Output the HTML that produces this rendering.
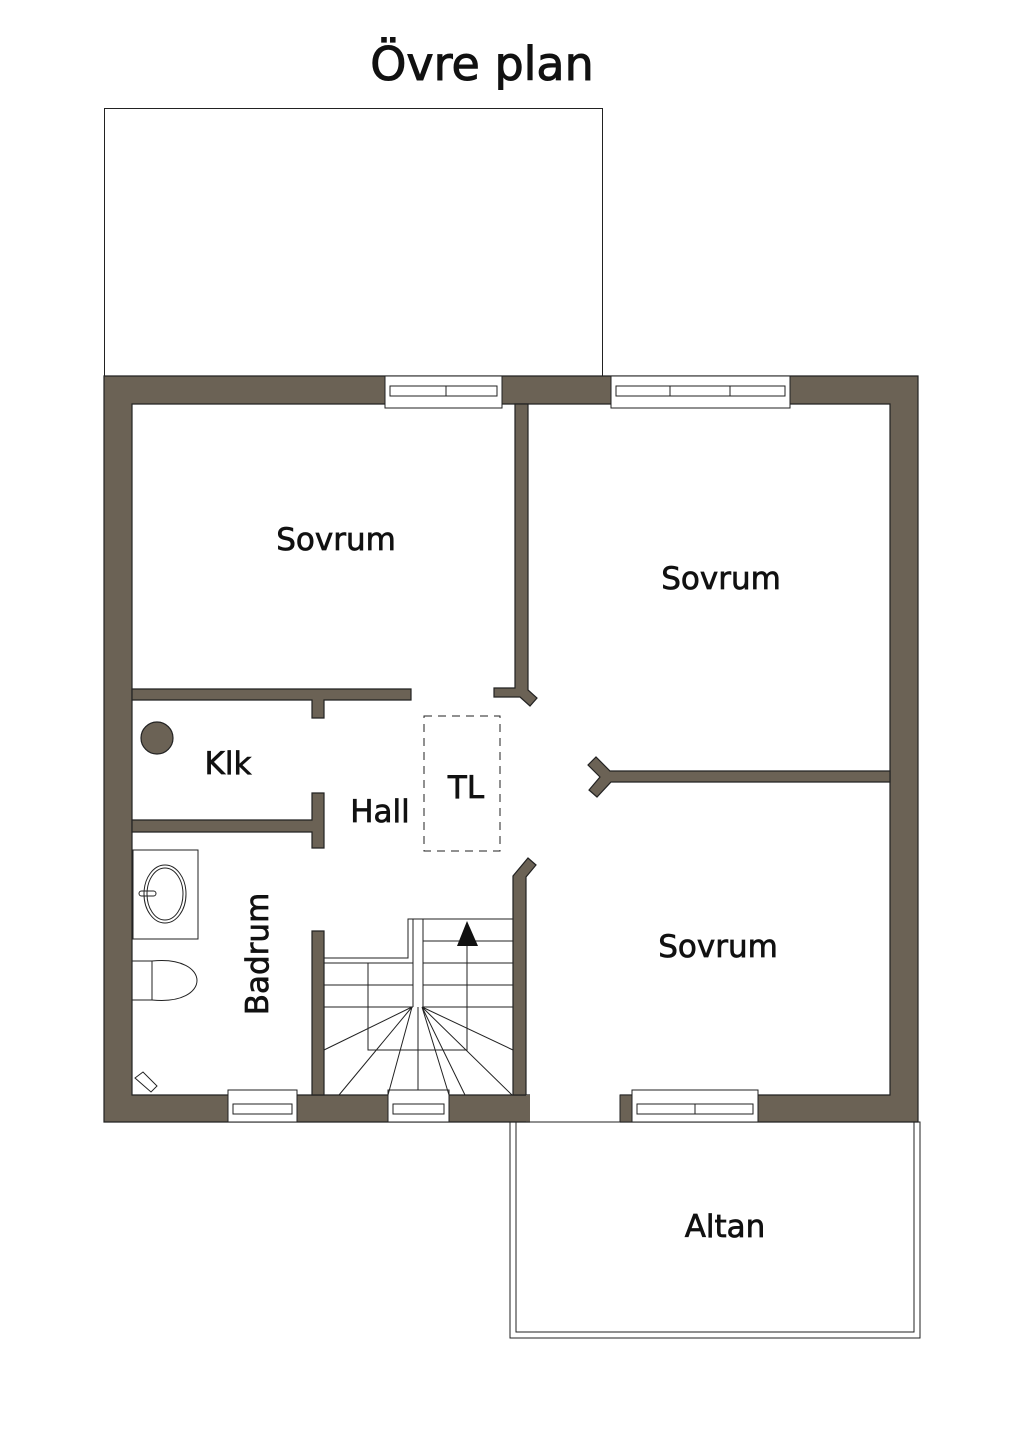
<!DOCTYPE html>
<html><head><meta charset="utf-8"><style>
html,body{margin:0;padding:0;background:#fff;}
svg{display:block}
text{font-family:"DejaVu Sans","Liberation Sans",sans-serif;fill:#111;stroke:#111;stroke-width:0.7;}
</style></head><body>
<svg width="1024" height="1448" viewBox="0 0 1024 1448" xmlns="http://www.w3.org/2000/svg">
<text x="482" y="80" font-size="46" text-anchor="middle" style="stroke-width:1">Övre plan</text>
<rect x="104.5" y="108.5" width="498" height="268" fill="none" stroke="#222" stroke-width="1"/>
<g fill="#6b6255" stroke="#222" stroke-width="1.2">
<path d="M104,376 H918 V1122 H104 Z M132,404 V1095 H890 V404 Z" fill-rule="evenodd"/>
<path d="M515,404 H528 V690 L537,698 L530,706 L520,697 H494 V688 H515 Z"/>
<path d="M132,689 H411 V700 H324 V718 H312 V700 H132 Z"/>
<path d="M132,820 H312 V793 H324 V848 H312 V832 H132 Z"/>
<path d="M890,771 V782 H611 L597,797 L589,790 L600,777 L588,765 L596,757 L610,771 Z"/>
<path d="M312,931 H324 V1095 H312 Z"/>
<path d="M513,1095 V876 L528,858 L536,865 L526,877 V1095 Z"/>
<circle cx="157" cy="738" r="16"/>
</g>
<g fill="#fff" stroke="#222" stroke-width="1">
<rect x="385" y="376" width="117" height="32"/>
<rect x="611" y="376" width="179" height="32"/>
<rect x="228" y="1090" width="69" height="32"/>
<rect x="388" y="1090" width="61" height="32"/>
<rect x="632" y="1090" width="126" height="32"/>
</g>
<rect x="530" y="1094" width="90" height="30" fill="#fff"/>
<rect x="526" y="1095" width="4" height="27" fill="#6b6255"/>
<path d="M620,1095 H632 V1122 H620 Z" fill="#6b6255" stroke="#222"/>
<g fill="none" stroke="#222" stroke-width="1">
<rect x="390" y="386" width="107" height="10"/><line x1="446" y1="386" x2="446" y2="396"/>
<rect x="616" y="386" width="169" height="10"/><line x1="670" y1="386" x2="670" y2="396"/><line x1="730" y1="386" x2="730" y2="396"/>
<rect x="233" y="1104" width="59" height="10"/>
<rect x="393" y="1104" width="51" height="10"/>
<rect x="637" y="1104" width="116" height="10"/><line x1="695" y1="1104" x2="695" y2="1114"/>
<rect x="424" y="716" width="76" height="135" stroke-dasharray="8,6"/>
<path d="M324,958 H408 V919 H513"/>
<path d="M413,919 V1007 M423,919 V1007"/>
<path d="M423,941 H513 M423,963 H513 M423,985 H513 M423,1007 H513"/>
<path d="M324,963 H413 M324,985 H413 M324,1007 H413"/>
<path d="M368,963 V1050 H467 V940"/>
<path d="M412,1007 L324,1050 M412,1007 L339,1095 M412,1007 L388,1095 M418,1007 V1090 M422,1007 L449,1095 M422,1007 L465,1095 M422,1007 L512,1095 M422,1007 L513,1050"/>
<rect x="133" y="850" width="65" height="89"/>
<ellipse cx="165" cy="894" rx="21" ry="29"/><ellipse cx="165" cy="894" rx="18" ry="26"/>
<rect x="139" y="891" width="17" height="5" rx="2.5"/>
<path d="M132,961 H152 V1000 H132 Z"/>
<path d="M152,961 C212,955 212,1006 152,1000"/>
<rect x="510" y="1122" width="410" height="216"/>
<rect x="516" y="1122" width="398" height="210"/>
</g>
<path d="M457,946 L467,921 L478,946 Z" fill="#111"/>
<path d="M135,1078 l8,-6 l14,14 l-6,6 Z" fill="none" stroke="#222"/>
<text x="336" y="550" font-size="31" text-anchor="middle">Sovrum</text>
<text x="721" y="589" font-size="31" text-anchor="middle">Sovrum</text>
<text x="718" y="957" font-size="31" text-anchor="middle">Sovrum</text>
<text x="228" y="774" font-size="31" text-anchor="middle">Klk</text>
<text x="380" y="822" font-size="31" text-anchor="middle">Hall</text>
<text x="466" y="798" font-size="31" text-anchor="middle">TL</text>
<text x="725" y="1237" font-size="31" text-anchor="middle">Altan</text>
<text transform="translate(268,954) rotate(-90)" font-size="31" text-anchor="middle">Badrum</text>
</svg>
</body></html>
